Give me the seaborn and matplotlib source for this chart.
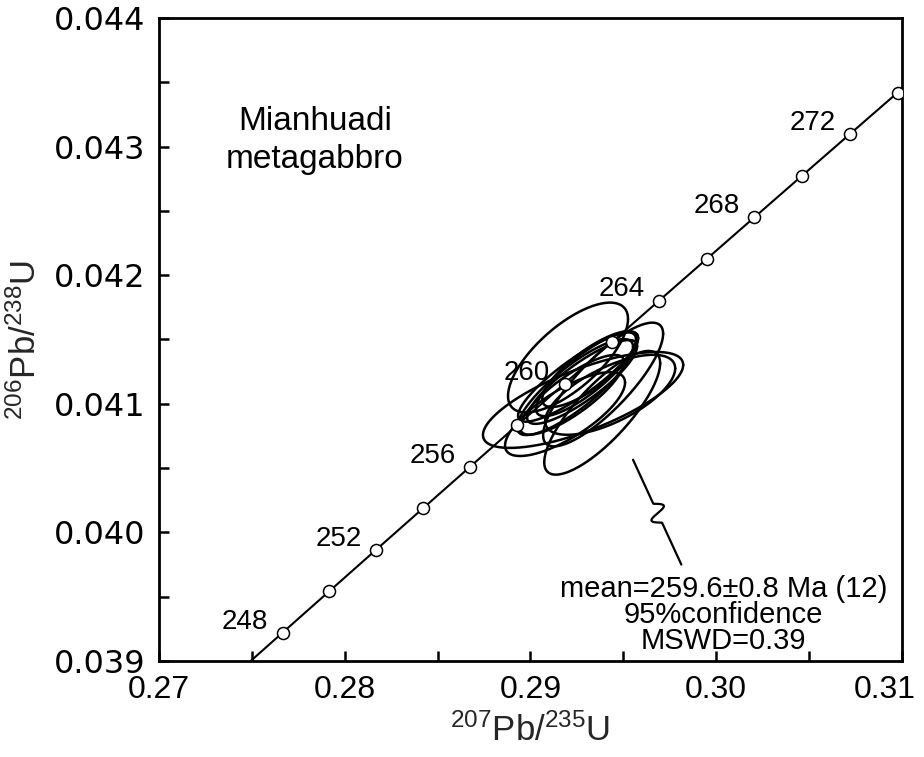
import numpy as np
import pandas as pd
import matplotlib
matplotlib.use("Agg")
import matplotlib.pyplot as plt
import matplotlib.transforms as mtransforms
import seaborn as sns
from matplotlib.ticker import MultipleLocator, FormatStrFormatter

# ---------------- data ----------------
# concordia tick ages (Ma) shown as open circles, and the labelled ones
tick_ages = [248, 250, 252, 254, 256, 258, 260, 262, 264, 266, 268, 270, 272, 274]
label_ages = [248, 252, 256, 260, 264, 268, 272]
curve_ages = list(range(240, 282))

# decay constants (per Ma)
L238 = 1.55125e-4
L235 = 9.8485e-4

# zircon analyses: 207Pb/235U, 2s, 206Pb/238U, 2s, error correlation
pb207_u235 = [0.29202, 0.29283, 0.29386, 0.29391, 0.29256, 0.29278,
              0.29299, 0.29240, 0.29186, 0.29429, 0.29321, 0.29224]
err_207 = [0.00323, 0.00539, 0.00312, 0.00323, 0.00323, 0.00296,
           0.00269, 0.00312, 0.00323, 0.00350, 0.00258, 0.00280]
pb206_u238 = [0.04136, 0.04103, 0.04093, 0.04115, 0.04121, 0.04117,
              0.04123, 0.04113, 0.04092, 0.04107, 0.04127, 0.04107]
err_206 = [0.000427, 0.000373, 0.000481, 0.000481, 0.000349, 0.000326,
           0.000326, 0.000373, 0.000326, 0.000311, 0.000295, 0.000310]
rho = [0.70, 0.73, 0.80, 0.82, 0.87, 0.85, 0.83, 0.84, 0.75, 0.66, 0.80, 0.82]

x_ticks = [0.27, 0.28, 0.29, 0.30, 0.31]
y_ticks = [0.039, 0.040, 0.041, 0.042, 0.043, 0.044]

sample_name = "Mianhuadi\nmetagabbro"
result_text = ["mean=259.6\u00b10.8 Ma (12)", "95%confidence", "MSWD=0.39"]

# ---------------- figure ----------------
sns.set_theme(style="ticks")
plt.rcParams["font.family"] = ["Liberation Sans", "DejaVu Sans"]
plt.rcParams["mathtext.default"] = "regular"

fig = plt.figure(figsize=(9.24, 7.57), dpi=100)
ax = fig.add_axes([159 / 924, 1 - 661 / 757, 743 / 924, (661 - 18) / 757])


def conc(a):
    a = np.asarray(a, dtype=float)
    return np.exp(L235 * a) - 1, np.exp(L238 * a) - 1


cx, cy = conc(curve_ages)
curve = pd.DataFrame({"x": cx, "y": cy})
sns.lineplot(data=curve, x="x", y="y", sort=False, estimator=None,
             color="black", lw=1.5, ax=ax, zorder=2)

# ellipses
t = np.linspace(0, 2 * np.pi, 240)
for i in range(len(pb207_u235)):
    r = rho[i]
    ex = pb207_u235[i] + err_207[i] * np.cos(t)
    ey = pb206_u238[i] + err_206[i] * (r * np.cos(t) + np.sqrt(1 - r * r) * np.sin(t))
    edf = pd.DataFrame({"x": ex, "y": ey})
    sns.lineplot(data=edf, x="x", y="y", sort=False, estimator=None,
                 color="black", lw=1.8, ax=ax, zorder=3)

# concordia age markers
tx, ty = conc(tick_ages)
sns.scatterplot(x=tx, y=ty, marker="o", s=75, facecolor="white",
                edgecolor="black", linewidth=1.1, ax=ax, zorder=5)

lx, ly = conc(label_ages)
for a, xx, yy in zip(label_ages, lx, ly):
    ax.annotate(str(a), (xx, yy), xytext=(-27, 8), textcoords="offset points",
                ha="center", va="center", fontsize=20, color="black", zorder=6)

# sample name
ax.text(0.21, 0.81, sample_name, transform=ax.transAxes, ha="center",
        va="center", fontsize=24, linespacing=1.3, color="black")

# leader line with break symbol (axes fraction)
A = np.array([0.638, 0.313])
D = np.array([0.703, 0.150])
s = np.linspace(0, 1, 400)
d = D - A
n = np.array([-d[1], d[0]]) / np.hypot(*d)
off = np.where((s > 0.42) & (s < 0.60), np.sin((s - 0.42) / 0.18 * 2 * np.pi), 0) * 0.012
px = A[0] + d[0] * s + n[0] * off
py = A[1] + d[1] * s + n[1] * off
ax.plot(px, py, color="black", lw=1.6, transform=ax.transAxes, zorder=4)

ax.text(0.76, 0.072, "\n".join(result_text), transform=ax.transAxes,
        ha="center", va="center", fontsize=21, linespacing=0.9, color="black")

# axes styling
ax.set_xlim(0.27, 0.31)
ax.set_ylim(0.039, 0.044)
ax.set_xticks(x_ticks)
ax.set_yticks(y_ticks)
ax.xaxis.set_major_formatter(FormatStrFormatter("%.2f"))
ax.yaxis.set_major_formatter(FormatStrFormatter("%.3f"))
ax.xaxis.set_minor_locator(MultipleLocator(0.005))
ax.yaxis.set_minor_locator(MultipleLocator(0.0005))
ax.tick_params(which="both", direction="in", length=7, width=1.8,
               top=False, right=False, colors="black")
ax.tick_params(axis="x", labelsize=23, pad=10)
ax.tick_params(axis="y", labelsize=23, pad=10)
for lab in ax.get_yticklabels():
    lab.set_family("DejaVu Sans")
# keep the last x tick label inside the figure
xlabs = ax.get_xticklabels()
xlabs[-1].set_transform(xlabs[-1].get_transform() +
                        mtransforms.ScaledTranslation(-17 / 100, 0, fig.dpi_scale_trans))
for sp in ax.spines.values():
    sp.set_linewidth(2.0)
    sp.set_color("black")
    sp.set_visible(True)

ax.set_xlabel(r"$^{207}$Pb/$^{235}$U", fontsize=25, labelpad=6)
ax.set_ylabel(r"$^{206}$Pb/$^{238}$U", fontsize=25, labelpad=8)
ax.grid(False)
ax.set_facecolor("white")
fig.patch.set_facecolor("white")

fig.savefig("out.png", dpi=100, facecolor="white")
